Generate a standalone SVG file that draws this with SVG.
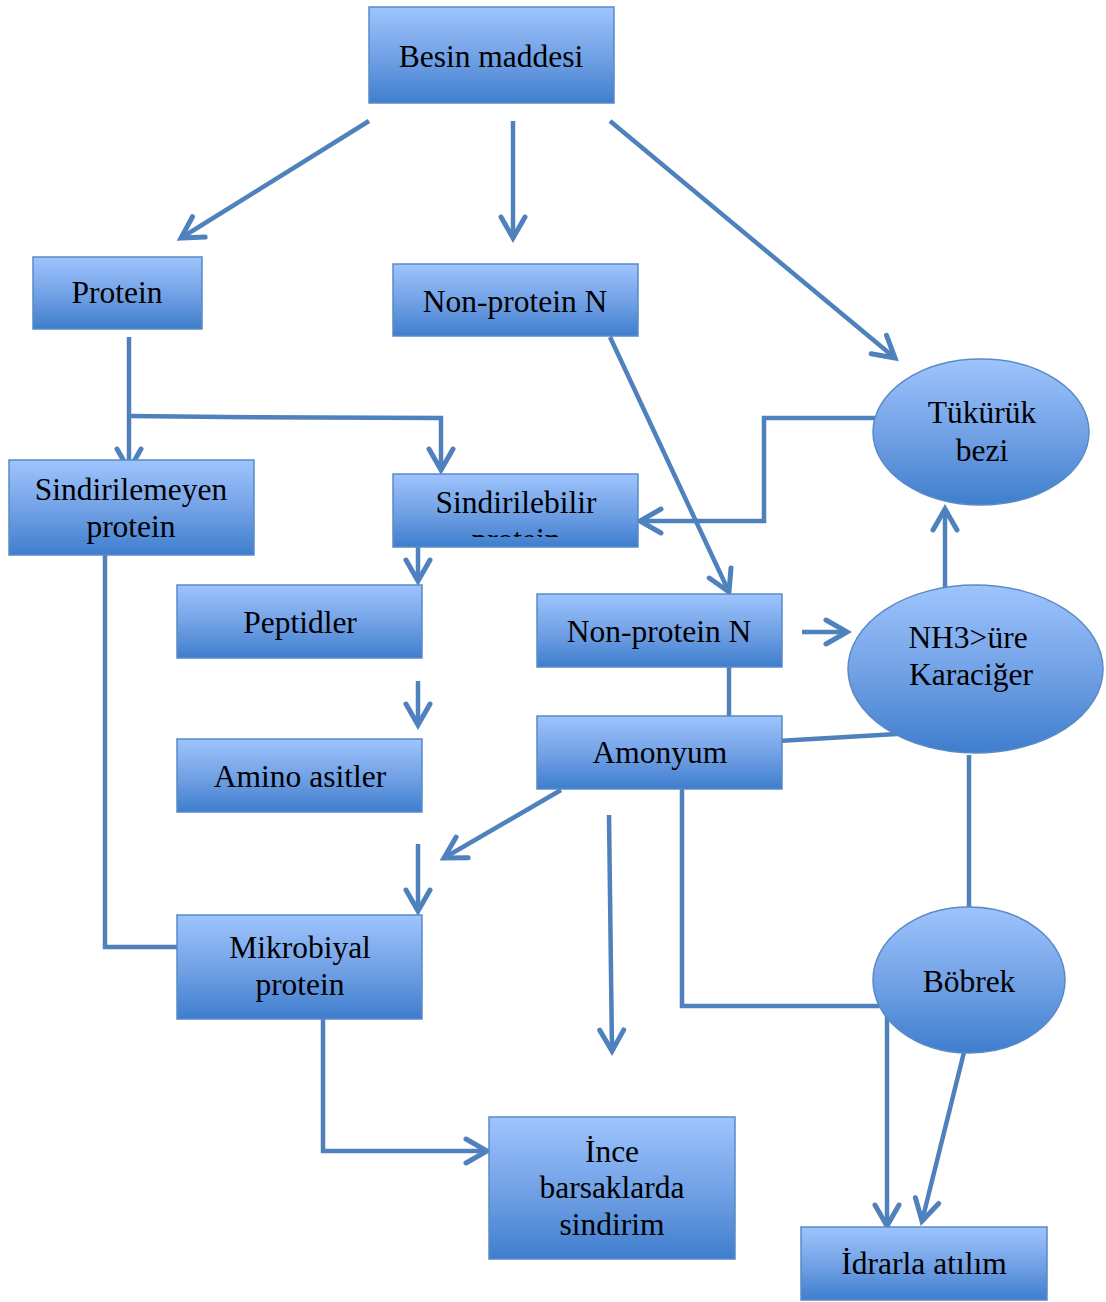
<svg xmlns="http://www.w3.org/2000/svg" width="1106" height="1302" viewBox="0 0 1106 1302">
<defs>
<linearGradient id="g" x1="0" y1="0" x2="0" y2="1">
<stop offset="0" stop-color="#9EC4FD"/>
<stop offset="0.55" stop-color="#6F9FE4"/>
<stop offset="1" stop-color="#3E7ECD"/>
</linearGradient>
<marker id="arr" markerUnits="userSpaceOnUse" viewBox="-30 -20 40 40" refX="0" refY="0" markerWidth="40" markerHeight="40" orient="auto" overflow="visible">
<path d="M-21,-12 L0,0 L-21,12" fill="none" stroke="#4F81BD" stroke-width="5" stroke-linecap="round"/>
</marker>
<clipPath id="clipSb"><rect x="393" y="474" width="245" height="63"/></clipPath>
</defs>
<style>
.box{fill:url(#g);stroke:#5A8AC6;stroke-width:1.5}
.t{font-family:"Liberation Serif","Times New Roman",serif;font-size:31.5px;fill:#000;text-anchor:middle}
.c{fill:none;stroke:#4F81BD;stroke-width:4.5}
.a{marker-end:url(#arr)}
</style>
<rect width="1106" height="1302" fill="#fff"/>

<g id="connectors">
<line class="c a" x1="369" y1="121" x2="181" y2="238"/>
<line class="c a" x1="513" y1="121" x2="513" y2="238"/>
<line class="c a" x1="610" y1="121" x2="895" y2="358"/>
<line class="c a" x1="129" y1="337" x2="129" y2="470"/>
<polyline class="c a" points="129,416 225,417 441,418 441,470"/>
<line class="c a" x1="610" y1="337" x2="729" y2="592"/>
<polyline class="c a" points="888,418 764,418 764,521 640,521"/>
<line class="c a" x1="418" y1="538" x2="418" y2="581"/>
<line class="c a" x1="418" y1="681" x2="418" y2="725"/>
<line class="c a" x1="418" y1="844" x2="418" y2="911"/>
<line class="c a" x1="561" y1="790" x2="444" y2="858"/>
<line class="c a" x1="609" y1="815" x2="612" y2="1051"/>
<polyline class="c" points="105,555 105,947 177,947"/>
<polyline class="c a" points="323,1003 323,1151 487,1151"/>
<line class="c a" x1="802" y1="632" x2="847" y2="632"/>
<line class="c" x1="729" y1="644" x2="729" y2="716"/>
<line class="c" x1="778" y1="741" x2="897" y2="734"/>
<line class="c a" x1="945" y1="587" x2="945" y2="509"/>
<line class="c" x1="969" y1="755" x2="969" y2="908"/>
<polyline class="c" points="682,780 682,1006 880,1006"/>
<line class="c a" x1="887" y1="1015" x2="887" y2="1226"/>
<line class="c a" x1="969" y1="1032" x2="922" y2="1221"/>
</g>

<g id="besin"><rect class="box" x="369" y="7" width="245" height="96"/><text class="t" x="491" y="67">Besin maddesi</text></g>
<g id="protein"><rect class="box" x="33" y="257" width="169" height="72"/><text class="t" x="117" y="303">Protein</text></g>
<g id="npn1"><rect class="box" x="393" y="264" width="245" height="72"/><text class="t" x="515" y="312">Non-protein N</text></g>
<g id="sindirilemeyen"><rect class="box" x="9" y="460" width="245" height="95"/><text class="t" x="131" y="500">Sindirilemeyen</text><text class="t" x="131" y="537">protein</text></g>
<g id="sindirilebilir"><rect class="box" x="393" y="474" width="245" height="73"/><text class="t" x="516" y="513">Sindirilebilir</text><text class="t" x="516" y="550" clip-path="url(#clipSb)">protein</text></g>
<g id="peptidler"><rect class="box" x="177" y="585" width="245" height="73"/><text class="t" x="300" y="633">Peptidler</text></g>
<g id="npn2"><rect class="box" x="537" y="594" width="245" height="73"/><text class="t" x="659" y="642">Non-protein N</text></g>
<g id="amonyum"><rect class="box" x="537" y="716" width="245" height="73"/><text class="t" x="660" y="763">Amonyum</text></g>
<g id="amino"><rect class="box" x="177" y="739" width="245" height="73"/><text class="t" x="300" y="787">Amino asitler</text></g>
<g id="mikrobiyal"><rect class="box" x="177" y="915" width="245" height="104"/><text class="t" x="300" y="958">Mikrobiyal</text><text class="t" x="300" y="995">protein</text></g>
<g id="ince"><rect class="box" x="489" y="1117" width="246" height="142"/><text class="t" x="612" y="1162">İnce</text><text class="t" x="612" y="1198">barsaklarda</text><text class="t" x="612" y="1235">sindirim</text></g>
<g id="idrar"><rect class="box" x="801" y="1227" width="246" height="73"/><text class="t" x="924" y="1274">İdrarla atılım</text></g>
<g id="tukuruk"><ellipse class="box" cx="981" cy="432" rx="108" ry="73"/><text class="t" x="982" y="423">Tükürük</text><text class="t" x="982" y="461">bezi</text></g>
<g id="karaciger"><ellipse class="box" cx="975.5" cy="669" rx="127.5" ry="84"/><text class="t" x="968" y="648">NH3&gt;üre</text><text class="t" x="971" y="685">Karaciğer</text></g>
<g id="bobrek"><ellipse class="box" cx="969" cy="980" rx="96" ry="73"/><text class="t" x="969" y="992">Böbrek</text></g>
</svg>
